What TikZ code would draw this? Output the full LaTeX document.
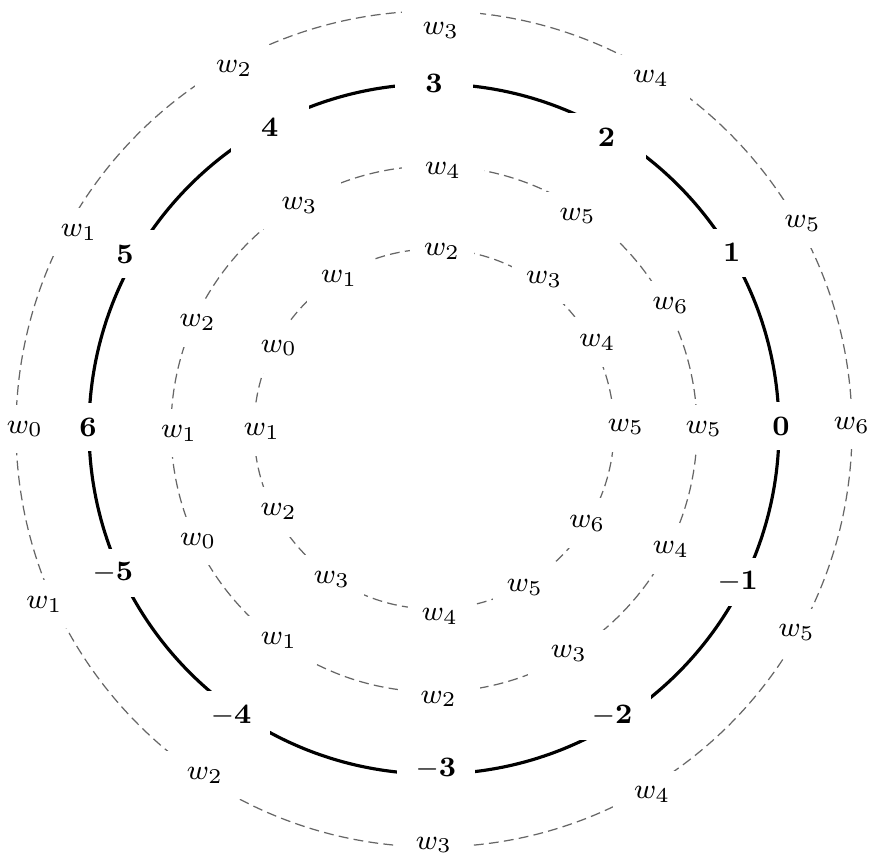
\documentclass[tikz,border=0pt]{standalone}

\begin{document}
\begin{tikzpicture}[
  font=\fontsize{8.5}{10}\selectfont,
  ring/.style={draw=black!60, line width=0.35pt, dash pattern=on 2.8pt off 1.5pt},
  mainring/.style={draw=black, line width=0.9pt},
  lbl/.style={fill=white, inner sep=0pt, minimum height=4.8mm},
  outlbl/.style={lbl, minimum width=7.8mm},
  numlbl/.style={lbl, minimum width=7.8mm},
  midlbl/.style={lbl, minimum width=8.2mm, minimum height=4.8mm},
  innlbl/.style={lbl, minimum width=6.4mm, minimum height=5mm}
]
\useasboundingbox (0,0) rectangle (8.69,8.58);
\coordinate (O) at (4.34,4.29);
% ----- the four rings -----
\draw[ring] (O) circle[radius=4.18];
\draw[mainring] (O) circle[radius=3.45];
\draw[ring] (O) circle[radius=2.63];
\draw[ring] (O) circle[radius=1.80];
% ----- inner ring weights -----
\foreach \a/\r/\t [count=\i] in {87.4/1.78/2, 53.7/1.86/3, 28/1.85/4, 0.6/1.92/5,
    328.4/1.80/6, 299.8/1.83/5, 271.8/1.88/4, 235.9/1.82/3, 208/1.76/2,
    180.7/1.72/1, 152.4/1.75/0, 122.2/1.78/1}
  \node[innlbl] (win\i) at ([shift={(\a:\r)}]O) {$w_{\t}$};
% ----- middle ring weights -----
\foreach \a/\r/\t [count=\i] in {88/2.59/4, 56/2.57/5, 27.6/2.67/6, 0/2.70/5,
    333/2.66/4, 301/2.62/3, 271/2.70/2, 233.7/2.62/1, 205.4/2.61/0,
    181/2.55/1, 155.8/2.59/2, 121/2.61/3}
  \node[midlbl] (wmid\i) at ([shift={(\a:\r)}]O) {$w_{\t}$};
% ----- main ring numbers -----
\foreach \a/\r/\t [count=\i] in {90/3.46/3, 59.4/3.39/2, 30.6/3.46/1, 0.5/3.47/0,
    333.3/3.40/-1, 301.8/3.38/-2, 270.3/3.40/-3, 234.7/3.51/-4, 204.2/3.52/-5,
    179.7/3.46/6, 150.5/3.55/5, 118.6/3.43/4}
  \node[numlbl] (num\i) at ([shift={(\a:\r)}]O) {$\mathbf{\t}$};
% ----- outer ring weights -----
\foreach \a/\r/\t [count=\i] in {89/3.99/3, 58.2/4.12/4, 29.1/4.22/5, 0.5/4.18/6,
    330.7/4.16/5, 300.8/4.26/4, 270/4.16/3, 236.5/4.15/2, 204.2/4.27/1,
    180/4.09/0, 151/4.06/1, 119/4.12/2}
  \node[outlbl] (wout\i) at ([shift={(\a:\r)}]O) {$w_{\t}$};
\end{tikzpicture}
\end{document}
